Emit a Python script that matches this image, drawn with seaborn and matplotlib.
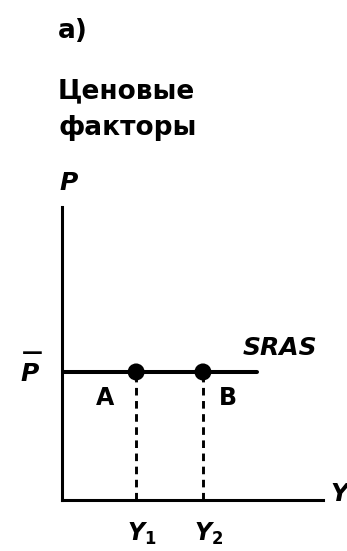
import matplotlib
matplotlib.use("Agg")
import matplotlib.pyplot as plt
import matplotlib.transforms as mtransforms
import seaborn as sns
import pandas as pd

# ---- data ----
output_levels = [2.84, 5.40]          # Y1, Y2
output_labels = [r"$Y_1$", r"$Y_2$"]
point_labels = ["A", "B"]
price_level = 4.37                    # P-bar
sras_x = [0.0, 7.47]                  # extent of SRAS line
title_label = "а)"
axis_title_lines = ["Ценовые", "факторы"]

sns.set_style("white")
plt.rcParams["font.family"] = ["DejaVu Sans"]
plt.rcParams["font.weight"] = "bold"
plt.rcParams["text.color"] = "black"
plt.rcParams["mathtext.fontset"] = "custom"
plt.rcParams["mathtext.it"] = "DejaVu Sans:bold:italic"
plt.rcParams["mathtext.rm"] = "DejaVu Sans:bold"
plt.rcParams["mathtext.bf"] = "DejaVu Sans:bold"

W, H = 347, 551
fig = plt.figure(figsize=(W / 100, H / 100), dpi=100)
ax = fig.add_axes([62 / W, (H - 500) / H, (323 - 62) / W, (500 - 207) / H])
ax.set_xlim(0, 10)
ax.set_ylim(0, 10)
for s in ["top", "right"]:
    ax.spines[s].set_visible(False)
for s in ["left", "bottom"]:
    ax.spines[s].set_linewidth(2.2)
    ax.spines[s].set_color("black")
ax.set_xticks([])
ax.set_yticks([])

sras = pd.DataFrame({"Y": sras_x, "P": [price_level] * len(sras_x)})
sns.lineplot(data=sras, x="Y", y="P", ax=ax, color="black", lw=2.9)

pts = pd.DataFrame({"Y": output_levels, "P": [price_level] * len(output_levels)})
ax.vlines(output_levels, 0, price_level, colors="black", lw=2.1,
          linestyles=(0, (2.6, 1.9)))
sns.scatterplot(data=pts, x="Y", y="P", ax=ax, color="black", s=150,
                edgecolor="none", zorder=5, clip_on=False)
ax.set_xlabel("")
ax.set_ylabel("")

fs = 17
lab_tr = mtransforms.offset_copy(ax.transData, fig=fig, x=-9, y=0, units="dots")
for x, lab in zip(output_levels, output_labels):
    ax.text(x, -1.40, lab, ha="left", va="baseline", fontsize=fs,
            transform=lab_tr, clip_on=False)
ax.text(1.65, 3.24, point_labels[0], ha="center", va="baseline", fontsize=fs)
ax.text(6.34, 3.24, point_labels[1], ha="center", va="baseline", fontsize=fs)
ax.text(6.93, 4.95, "SRAS", ha="left", va="baseline", fontsize=18, style="italic")
# P-bar label: italic P with a bar drawn as an em dash above it
ax.text(-1.23, 4.06, "P", ha="center", va="baseline", fontsize=18,
        style="italic", clip_on=False)
bar_tr = mtransforms.offset_copy(ax.transData, fig=fig, x=2, y=22, units="dots")
ax.text(-1.23, 4.06, "\u2014", ha="center", va="baseline", fontsize=15,
        transform=bar_tr, clip_on=False)
ax.text(10.27, -0.03, "Y", ha="left", va="baseline", fontsize=18,
        style="italic", clip_on=False)
ax.text(-0.08, 10.58, "P", ha="left", va="baseline", fontsize=18,
        style="italic", clip_on=False)

fig.text(58 / W, (H - 38) / H, title_label, ha="left", va="baseline", fontsize=19)
for line, base in zip(axis_title_lines, [98, 135]):
    fig.text(58 / W, (H - base) / H, line, ha="left", va="baseline", fontsize=19)

fig.savefig("out.png", dpi=100)
